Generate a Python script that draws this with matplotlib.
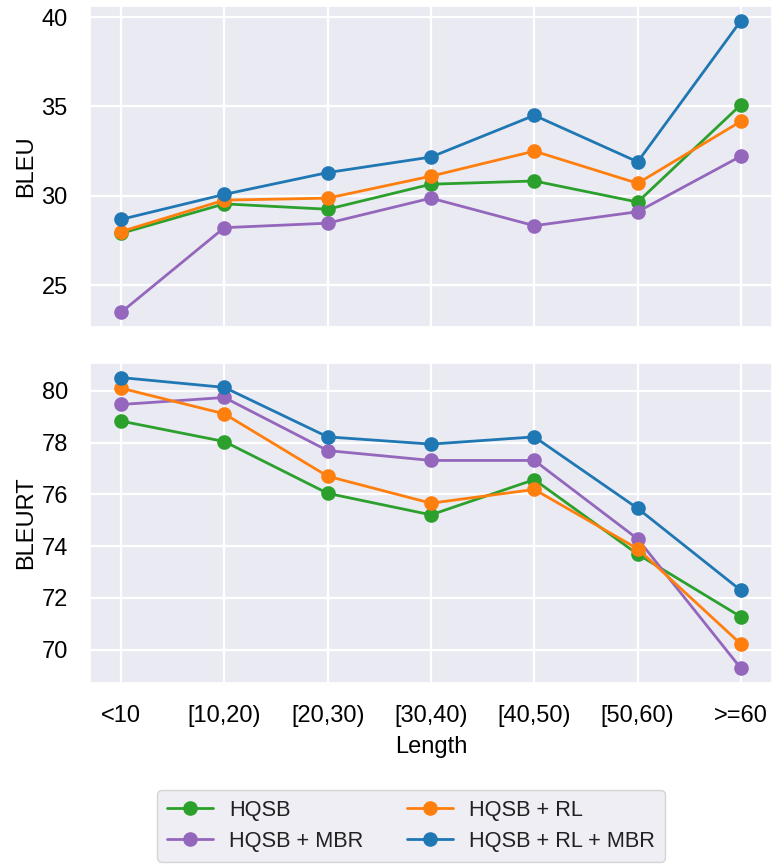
import numpy as np
import matplotlib
matplotlib.use("Agg")
import matplotlib.pyplot as plt
import seaborn as sns

sns.set_theme(style="darkgrid")
plt.rcParams['font.family'] = ['Liberation Sans', 'DejaVu Sans']
plt.rcParams['grid.linewidth'] = 1.6

lengths = ["<10", "[10,20)", "[20,30)", "[30,40)", "[40,50)", "[50,60)", ">=60"]

bleu_hqsb = [27.9, 29.55, 29.25, 30.65, 30.83, 29.65, 35.1]
bleu_mbr = [23.48, 28.22, 28.47, 29.87, 28.33, 29.11, 32.22]
bleu_rl = [28.0, 29.76, 29.87, 31.1, 32.5, 30.7, 34.17]
bleu_rl_mbr = [28.68, 30.08, 31.3, 32.17, 34.5, 31.9, 39.8]

bleurt_hqsb = [78.83, 78.04, 76.04, 75.21, 76.57, 73.69, 71.27]
bleurt_mbr = [79.47, 79.74, 77.69, 77.31, 77.31, 74.28, 69.28]
bleurt_rl = [80.1, 79.11, 76.7, 75.66, 76.19, 73.9, 70.22]
bleurt_rl_mbr = [80.51, 80.13, 78.22, 77.94, 78.22, 75.46, 72.29]

names = ["HQSB", "HQSB + MBR", "HQSB + RL", "HQSB + RL + MBR"]
colors = ["#2ca02c", "#9467bd", "#ff7f0e", "#1f77b4"]

fs = 17
fig = plt.figure(figsize=(7.73, 8.66), dpi=100)
W, H = 773, 866
ax1 = fig.add_axes([90 / W, 1 - 327 / H, 682 / W, 321 / H])
ax2 = fig.add_axes([90 / W, 1 - 683 / H, 682 / W, 320 / H])

x = np.arange(len(lengths))
for ax, series in [(ax1, [bleu_hqsb, bleu_mbr, bleu_rl, bleu_rl_mbr]),
                   (ax2, [bleurt_hqsb, bleurt_mbr, bleurt_rl, bleurt_rl_mbr])]:
    for vals, name, c in zip(series, names, colors):
        ax.plot(x, vals, marker="o", color=c, label=name, linewidth=2, markersize=9.5)
    ax.set_xticks(x)
    ax.tick_params(labelsize=fs, colors="black", pad=10)

ax1.set_xticklabels([])
ax2.set_xticklabels(lengths)
ax1.set_ylabel("BLEU", fontsize=fs, color="black", labelpad=3)
ax2.set_ylabel("BLEURT", fontsize=fs, color="black", labelpad=3)
ax2.set_xlabel("Length", fontsize=fs, color="black", labelpad=6)
ax1.set_yticks([25, 30, 35, 40])
ax2.set_yticks([70, 72, 74, 76, 78, 80])

handles, labels = ax2.get_legend_handles_labels()
leg = fig.legend(handles, labels, ncol=2, fontsize=15.7, loc="center",
                 bbox_to_anchor=(411 / W, 1 - 826 / H), frameon=True,
                 columnspacing=2.0, handletextpad=0.75, labelspacing=0.45,
                 borderpad=0.45, handlelength=2.1)
for t in leg.get_texts():
    t.set_color("#222222")

fig.savefig("out.png", dpi=100)
